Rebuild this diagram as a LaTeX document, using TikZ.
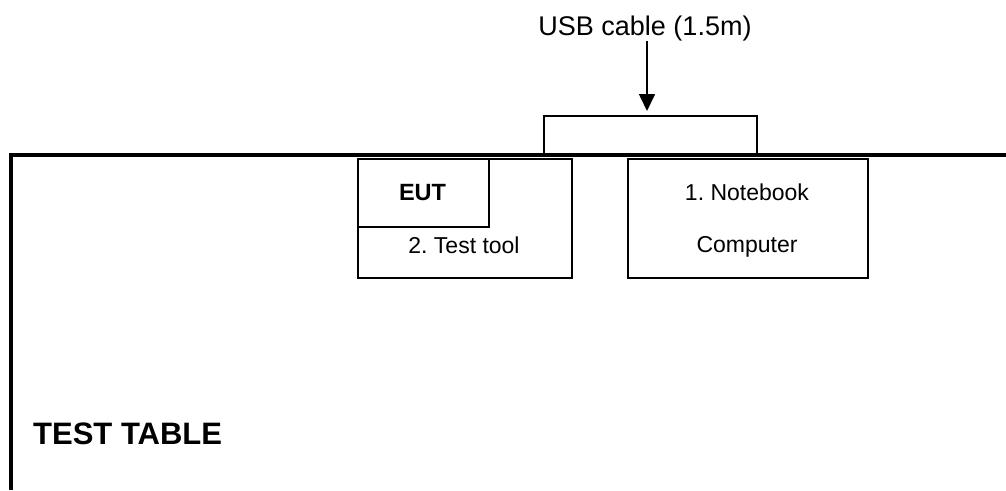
\documentclass[tikz,border=0pt]{standalone}
\usepackage{fontspec}
\setmainfont{Liberation Sans}
\usetikzlibrary{positioning,arrows.meta}

\begin{document}
\frenchspacing
\begin{tikzpicture}[x=1pt,y=-1pt]
		\tikzstyle{every node}+=[inner sep=0pt]
		\tikzstyle{box}=[draw=black,line width=1.5pt,rectangle,anchor=north west]
		\tikzstyle{txt}=[anchor=base,font=\fontsize{23}{28}\selectfont]
		\useasboundingbox (0,0) rectangle (1006,490);
		\node [box,minimum width=213,minimum height=39] (cable) at (543,115) {};
		\draw [black,line width=4pt] (11,490) -- (11,154.5) -- (1006,154.5);
		\node [box,minimum width=214,minimum height=119] (tool) at (357,158) {};
		\node [box,minimum width=131,minimum height=68] (eut) at (357,158) {};
		\node [box,minimum width=240,minimum height=119] (notebook) at (627,158) {};
		\node [txt,font=\bfseries\fontsize{23.5}{28}\selectfont] (euttext) at (422.5,200) {EUT};
		\node [txt] (tooltext) at (464,253) {2. Test tool};
		\node [txt] (nbtext1) at (747,200) {1. Notebook};
		\node [txt] (nbtext2) at (747,252) {Computer};
		\node [txt,font=\fontsize{27}{32}\selectfont] (usb) at (645,35) {USB cable (1.5m)};
		\node [anchor=base west,font=\bfseries\fontsize{31}{36}\selectfont] (table) at (33,444) {TEST TABLE};
		\coordinate (usbend) at (647,111);
		\draw [black,line width=1.7pt,-{Triangle[width=16pt,length=17pt]}] (usb.south -| usbend) -- (usbend);
\end{tikzpicture}
\end{document}
